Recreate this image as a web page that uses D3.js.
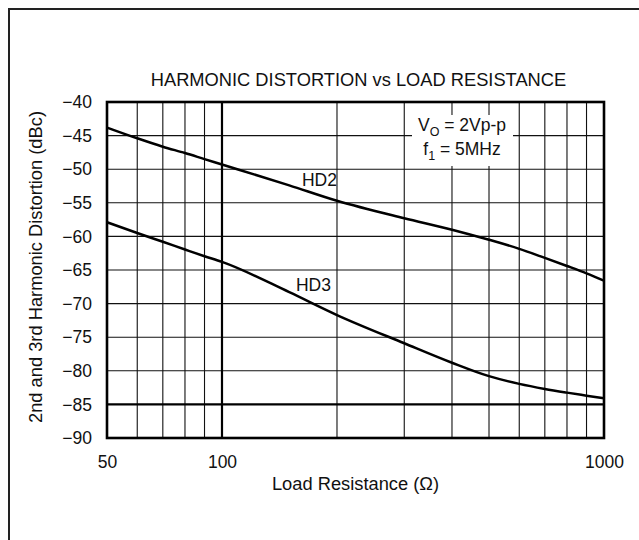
<!DOCTYPE html>
<html>
<head>
<meta charset="utf-8">
<script src="https://cdn.jsdelivr.net/npm/d3@7"></script>
<style>
  html, body { margin: 0; padding: 0; background: #fff; }
  svg { display: block; }
  text { font-family: "Liberation Sans", Arial, Helvetica, sans-serif; fill: #111; }
</style>
</head>
<body>
<svg id="chart" width="639" height="540"></svg>
<script>
// Load resistance (ohms) at which distortion was read
const resistance = [50, 60, 70, 80, 90, 100, 150, 200, 300, 400, 500, 600, 700, 800, 900, 1000];
// 2nd harmonic distortion (dBc)
const hd2 = [-43.8, -45.4, -46.65, -47.6, -48.5, -49.3, -52.4, -54.7, -57.3, -59.0, -60.5, -61.85, -63.2, -64.4, -65.5, -66.6];
// 3rd harmonic distortion (dBc)
const hd3 = [-57.9, -59.5, -60.8, -61.95, -62.95, -63.8, -68.3, -71.7, -75.9, -78.8, -80.8, -81.95, -82.7, -83.25, -83.7, -84.1];

const yTicks = [-40, -45, -50, -55, -60, -65, -70, -75, -80, -85, -90];
const xTickLabels = [50, 100, 1000];
const xMinorGrid = [60, 70, 80, 90, 200, 300, 400, 500, 600, 700, 800, 900];
const xMajorGrid = [100];
const yMajorGrid = [-85];

const svg = d3.select("#chart");
const plot = { left: 107, right: 604, top: 102, bottom: 438 };

const x = d3.scaleLog().domain([50, 1000]).range([plot.left, plot.right]);
const y = d3.scaleLinear().domain([-90, -40]).range([plot.bottom, plot.top]);

// Outer page frame (runs off the right and bottom edges)
svg.append("path")
  .attr("d", "M9,540 L9,9 L639,9")
  .attr("fill", "none").attr("stroke", "#222").attr("stroke-width", 2);

// Title
svg.append("text")
  .attr("x", (plot.left + plot.right) / 2 + 3).attr("y", 86)
  .attr("text-anchor", "middle").attr("font-size", 18.3)
  .text("HARMONIC DISTORTION vs LOAD RESISTANCE");

const grid = svg.append("g");

// Thin horizontal gridlines
grid.selectAll("line.hgrid")
  .data(yTicks.filter(v => v > -90 && v < -40 && !yMajorGrid.includes(v)))
  .join("line")
  .attr("x1", plot.left).attr("x2", plot.right)
  .attr("y1", d => y(d)).attr("y2", d => y(d))
  .attr("stroke", "#111").attr("stroke-width", 1.1);

// Thin vertical gridlines
grid.selectAll("line.vgrid")
  .data(xMinorGrid)
  .join("line")
  .attr("y1", plot.top).attr("y2", plot.bottom)
  .attr("x1", d => x(d)).attr("x2", d => x(d))
  .attr("stroke", "#111").attr("stroke-width", 1.1);

// Heavy gridlines
grid.selectAll("line.hmajor")
  .data(yMajorGrid)
  .join("line")
  .attr("x1", plot.left).attr("x2", plot.right)
  .attr("y1", d => y(d)).attr("y2", d => y(d))
  .attr("stroke", "#000").attr("stroke-width", 2.2);

grid.selectAll("line.vmajor")
  .data(xMajorGrid)
  .join("line")
  .attr("y1", plot.top).attr("y2", plot.bottom)
  .attr("x1", d => x(d)).attr("x2", d => x(d))
  .attr("stroke", "#000").attr("stroke-width", 2.2);

// Test-condition note on a white patch over the grid
const note = svg.append("g");
note.append("rect")
  .attr("x", 412).attr("y", 115).attr("width", 101).attr("height", 51)
  .attr("fill", "#fff");
const l1 = note.append("text").attr("x", 462).attr("y", 131)
  .attr("text-anchor", "middle").attr("font-size", 17.5);
l1.append("tspan").text("V");
l1.append("tspan").attr("font-size", 12.5).attr("dy", 5).text("O");
l1.append("tspan").attr("dy", -5).text(" = 2Vp-p");
const l2 = note.append("text").attr("x", 462).attr("y", 155)
  .attr("text-anchor", "middle").attr("font-size", 17.5);
l2.append("tspan").text("f");
l2.append("tspan").attr("font-size", 12.5).attr("dy", 5).text("1");
l2.append("tspan").attr("dy", -5).text(" = 5MHz");

// Curves
const line = d3.line()
  .x(d => x(d[0])).y(d => y(d[1]))
  .curve(d3.curveMonotoneX);

[hd2, hd3].forEach(series => {
  svg.append("path")
    .datum(resistance.map((r, i) => [r, series[i]]))
    .attr("d", line)
    .attr("fill", "none").attr("stroke", "#000").attr("stroke-width", 2.5);
});

// Curve labels
svg.append("text").attr("x", 337).attr("y", 186)
  .attr("text-anchor", "end").attr("font-size", 17.5).text("HD2");
svg.append("text").attr("x", 331).attr("y", 290.5)
  .attr("text-anchor", "end").attr("font-size", 17.5).text("HD3");

// Plot frame
svg.append("rect")
  .attr("x", plot.left).attr("y", plot.top)
  .attr("width", plot.right - plot.left).attr("height", plot.bottom - plot.top)
  .attr("fill", "none").attr("stroke", "#000").attr("stroke-width", 2.6);

// Y axis tick labels
const yAxis = d3.axisLeft(y).tickValues(yTicks).tickSize(0).tickPadding(15)
  .tickFormat(d => d3.format("d")(d).replace("-", "\u2212"));
const gy = svg.append("g").attr("transform", `translate(${plot.left},0)`).call(yAxis);
gy.select(".domain").remove();
gy.selectAll("text").attr("font-size", 17.5)
  .attr("font-family", "'Liberation Sans', Arial, Helvetica, sans-serif").attr("fill", "#111");

// X axis tick labels
const xAxis = d3.axisBottom(x).tickValues(xTickLabels).tickSize(0).tickPadding(18)
  .tickFormat(d3.format("d"));
const gx = svg.append("g").attr("transform", `translate(0,${plot.bottom})`).call(xAxis);
gx.select(".domain").remove();
gx.selectAll("text").attr("font-size", 17.5)
  .attr("font-family", "'Liberation Sans', Arial, Helvetica, sans-serif").attr("fill", "#111");

// Axis titles
svg.append("text")
  .attr("x", (plot.left + plot.right) / 2).attr("y", 490)
  .attr("text-anchor", "middle").attr("font-size", 18.3)
  .text("Load Resistance (\u03A9)");

svg.append("text")
  .attr("transform", `translate(42,${(plot.top + plot.bottom) / 2 - 3}) rotate(-90)`)
  .attr("text-anchor", "middle").attr("font-size", 18.3)
  .text("2nd and 3rd Harmonic Distortion (dBc)");
</script>
</body>
</html>
